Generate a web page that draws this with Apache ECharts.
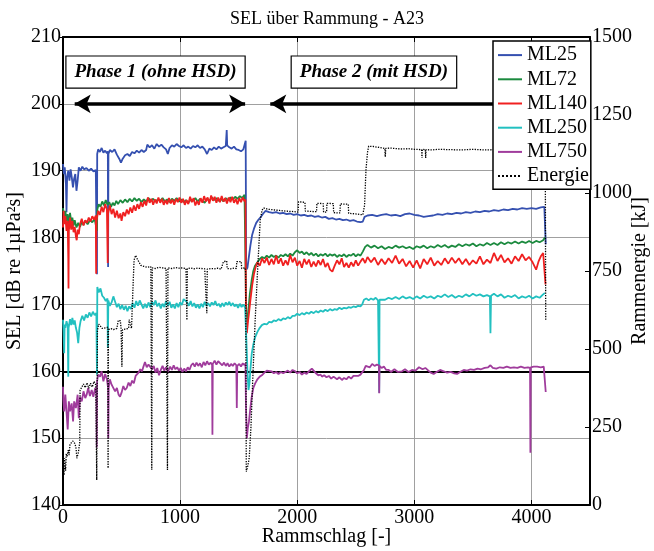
<!DOCTYPE html>
<html><head><meta charset="utf-8">
<script src="https://cdn.jsdelivr.net/npm/echarts@6/dist/echarts.min.js"></script>
<style>html,body{margin:0;padding:0;background:#fff}#c{width:654px;height:551px}</style>
</head><body><div id="c"></div>
<script>
const titleText = 'SEL über Rammung - A23';
const seriesNames = ['ML25', 'ML72', 'ML140', 'ML250', 'ML750', 'Energie'];
const seriesColors = ['#3550b0', '#1b8a3e', '#f02020', '#22c0c0', '#a03c9c', '#000000'];
const xTicks = { min: 0, max: 4500, step: 1000 };
const selTicks = { min: 140, max: 210, step: 10 };
const energyTicks = { min: 0, max: 1500, step: 250 };
const phaseLabels = ['Phase 1 (ohne HSD)', 'Phase 2 (mit HSD)'];
const phaseLabelPos = [[790, 204.75], [2655, 204.75]];
const phaseArrows = [[100, 1555], [1770, 4150]];
const arrowLevel = 200;
const boldLevel = 160;

// [Rammschlag, SEL]
const ml25 = [[0,191],[8,189.5],[15,190.5],[25,188],[30,183.8],[35,189],[45,190],[55,188.5],[65,190.2],[75,189],[85,187.5],[95,188.8],[105,189.5],[115,187],[125,188.5],[135,190.5],[150,190],[165,190.6],[180,190.2],[200,190.4],[220,190],[240,190.3],[260,189.9],[280,190.1],[288,190],[290,174.5],[292,192.5],[300,193.2],[315,192.8],[330,193.4],[345,192.7],[360,193],[375,192.6],[383,192.9],[385,175.6],[388,192.5],[400,193.1],[420,192.8],[440,193.2],[460,192.4],[480,191.8],[495,191.2],[510,191.8],[530,192.3],[550,192.5],[570,192.2],[590,192.8],[610,192.6],[630,193],[650,192.7],[670,193.1],[690,192.8],[710,193.1],[720,193.9],[740,193.5],[760,193.8],[780,193.3],[800,194],[820,193.6],[840,193.9],[860,193.5],[880,193.2],[895,192.5],[910,193.4],[930,193.8],[950,193.6],[970,194],[990,193.7],[1010,193.5],[1030,193.8],[1050,193.4],[1070,193.6],[1090,193.3],[1110,193.7],[1130,193.5],[1150,193.8],[1170,193.4],[1190,193.6],[1210,193.2],[1230,192.5],[1250,193.3],[1270,193.1],[1290,193.5],[1310,193.2],[1330,193.6],[1350,193.3],[1370,193.5],[1390,193.7],[1398,196.1],[1402,193.8],[1420,193.5],[1440,193.3],[1460,193.6],[1480,193.2],[1500,193.1],[1520,192.9],[1540,193.2],[1555,193],[1560,194.5],[1564,175.2],[1575,175.5],[1585,176.8],[1600,178.8],[1615,180.4],[1630,181.3],[1650,182.2],[1670,182.7],[1690,183.1],[1710,183.6],[1730,184],[1760,183.8],[1790,183.7],[1820,183.8],[1850,183.6],[1880,183.7],[1910,183.5],[1940,183.6],[1970,183.4],[2000,183.5],[2030,183.3],[2060,183.4],[2090,183.2],[2120,183.3],[2150,183.1],[2180,183.2],[2210,183],[2240,183.1],[2270,182.8],[2300,182.9],[2330,182.7],[2360,182.8],[2390,182.6],[2420,182.7],[2450,182.5],[2480,182.6],[2510,182.4],[2540,182.3],[2560,182.4],[2575,183.1],[2600,183.3],[2640,183.4],[2680,183.2],[2720,183.4],[2760,183.5],[2800,183.3],[2840,183.4],[2880,183.2],[2920,183.5],[2960,183.6],[3000,183.4],[3040,183.3],[3080,183.1],[3120,183.2],[3160,183.3],[3200,183.5],[3240,183.4],[3280,183.6],[3320,183.5],[3360,183.7],[3400,183.6],[3440,183.8],[3480,183.7],[3520,183.9],[3560,183.8],[3600,184],[3640,183.9],[3680,184.1],[3720,184],[3760,184.2],[3800,184.1],[3840,184.3],[3880,184.2],[3920,184.4],[3960,184.3],[4000,184.4],[4040,184.3],[4080,184.5],[4110,184.6],[4120,184.8],[4122,179]];

const ml72 = [[0,184.4],[10,183],[20,184],[30,182.5],[40,183.5],[50,182],[60,183.7],[70,182.4],[80,183],[90,181.8],[100,182.6],[115,181.5],[130,182.2],[145,181.6],[160,182.3],[175,181.9],[190,182.5],[210,182],[230,182.6],[250,182.3],[270,182.8],[285,183],[290,181],[293,184.2],[305,185],[320,184.6],[335,185.4],[350,184.8],[365,185.6],[380,184.9],[395,185.3],[410,184.6],[425,185.2],[440,184.8],[455,185.5],[470,185],[490,185.6],[510,185.2],[530,185.7],[550,185.3],[570,185.8],[590,185.4],[610,185.9],[630,185.5],[650,185.8],[670,185.3],[690,185.7],[710,185.4],[730,185.9],[750,185.5],[770,185.8],[790,185.4],[810,185.7],[830,185.5],[850,185.9],[870,185.4],[890,185.7],[910,185.3],[930,185.8],[950,185.5],[970,185.9],[990,185.4],[1010,185.7],[1030,185.3],[1050,185.6],[1070,185.2],[1090,185.7],[1110,185.5],[1130,185.9],[1150,185.4],[1170,185.8],[1190,185.5],[1210,185.2],[1230,185.8],[1250,185.5],[1270,186],[1290,185.6],[1310,185.9],[1330,185.5],[1350,185.8],[1370,185.4],[1390,185.9],[1410,185.6],[1430,186],[1450,185.7],[1470,186.1],[1490,185.8],[1510,186.2],[1530,185.9],[1550,186.4],[1558,186.6],[1562,171],[1568,166.5],[1580,168.5],[1595,171.5],[1610,173.5],[1625,175],[1640,175.8],[1660,176.3],[1680,176.8],[1700,177.1],[1720,176.9],[1740,177.3],[1760,177],[1780,177.4],[1800,177.1],[1820,177.3],[1840,177],[1860,177.4],[1880,177.2],[1900,177.5],[1920,177.2],[1940,177.6],[1960,177.3],[1980,177.8],[2000,178.1],[2020,177.7],[2040,177.9],[2060,177.5],[2080,177.8],[2100,177.4],[2120,177.7],[2140,177.3],[2160,177.6],[2180,177.2],[2200,177.5],[2220,177.3],[2240,177.6],[2260,177.2],[2280,177.5],[2300,177.3],[2320,177.5],[2340,177.1],[2360,177.4],[2380,177.2],[2400,177.5],[2420,177.1],[2440,177.4],[2460,177.3],[2480,177.6],[2500,177.2],[2520,177.5],[2540,177.3],[2560,177.9],[2580,178.6],[2600,178.9],[2630,178.5],[2660,178.8],[2690,178.4],[2720,178.7],[2750,178.3],[2780,178.6],[2810,178.4],[2840,178.8],[2870,178.5],[2900,178.7],[2930,178.4],[2960,178.6],[2990,178.3],[3020,178.7],[3050,178.5],[3080,178.8],[3110,178.4],[3140,178.7],[3170,178.5],[3200,178.9],[3230,178.6],[3260,178.9],[3290,178.5],[3320,178.8],[3350,178.6],[3380,179],[3410,178.7],[3440,179],[3470,178.8],[3500,179.1],[3530,178.7],[3560,179],[3590,178.8],[3620,179.2],[3650,178.9],[3680,179.2],[3710,178.9],[3740,179.3],[3770,179],[3800,179.3],[3830,179.1],[3860,179.4],[3890,179.1],[3920,179.4],[3950,179.2],[3980,179.5],[4010,179.2],[4040,179.5],[4070,179.3],[4100,179.6],[4115,180]];

const ml140 = [[0,181.5],[5,184],[10,182],[20,183.2],[30,181],[40,182.5],[45,177],[47,172.4],[50,181],[60,183],[70,181.2],[80,182.5],[90,180.8],[100,181.6],[110,180.2],[117,179.6],[125,181.2],[135,180.5],[145,182],[160,182.8],[175,181.8],[190,182.6],[205,182.2],[220,183],[235,182.4],[250,183.2],[265,182.7],[280,183.3],[283,174.6],[286,182.5],[300,184],[315,183.4],[330,184.6],[345,183.8],[360,185],[375,184.2],[382,176.2],[385,183.6],[400,184.8],[415,183.5],[430,184.3],[445,183],[460,184],[475,182.9],[490,183.6],[500,182.5],[515,183.8],[530,183.2],[545,184.2],[560,183.5],[575,184.5],[590,183.7],[605,184.8],[620,184],[635,185],[650,184.3],[665,185.3],[680,184.6],[695,185.5],[710,184.8],[725,186],[740,185.2],[755,185.8],[770,184.9],[785,185.7],[800,185.1],[815,186],[830,185.2],[845,185.8],[860,184.9],[875,185.6],[890,185],[905,185.9],[920,185.1],[935,185.7],[950,184.9],[965,185.8],[980,185.3],[995,186],[1010,185.2],[1025,185.8],[1040,184.9],[1055,185.6],[1070,185],[1085,186.1],[1100,185.3],[1115,185.9],[1130,184.8],[1145,185.5],[1160,184.9],[1175,185.9],[1190,185.2],[1205,186.2],[1220,185.4],[1235,186],[1250,185.1],[1265,186.3],[1280,185.5],[1295,186.1],[1310,185.2],[1325,186],[1340,185.3],[1355,186.2],[1370,185.4],[1385,185.9],[1400,185.1],[1415,186],[1430,185.3],[1445,186.1],[1460,185.2],[1475,185.8],[1490,185],[1505,185.9],[1520,185.3],[1535,186],[1550,185.4],[1558,185.7],[1562,168],[1570,165.7],[1580,167.5],[1590,169],[1600,170.6],[1615,172.8],[1630,174.5],[1645,175.6],[1660,176.3],[1680,175.8],[1700,176.9],[1720,176.2],[1740,177],[1760,175.9],[1780,176.8],[1800,176],[1820,177.3],[1840,176.1],[1860,176.9],[1880,175.8],[1900,176.6],[1920,175.9],[1940,177.4],[1960,176.3],[1980,177],[2000,175.8],[2020,176.5],[2040,175.5],[2060,176.8],[2080,176],[2100,176.7],[2120,175.6],[2140,176.4],[2160,175.7],[2180,176.6],[2200,175.9],[2220,176.8],[2240,175.6],[2260,176.2],[2280,175.2],[2300,174.9],[2320,175.8],[2340,176.6],[2360,176],[2380,176.9],[2400,175.6],[2420,176.2],[2440,175.5],[2460,176.3],[2480,175.7],[2500,176.6],[2520,175.8],[2540,176.4],[2560,176.9],[2580,176.2],[2600,177.1],[2630,176.3],[2660,177],[2690,175.9],[2720,176.8],[2750,176],[2780,176.9],[2810,176.2],[2840,177.3],[2870,176.1],[2900,176.8],[2930,175.7],[2960,176.5],[2990,175.5],[3020,176.6],[3050,175.4],[3080,176.8],[3110,176],[3140,177],[3170,175.8],[3200,176.5],[3230,175.9],[3260,176.9],[3290,176.1],[3320,177],[3350,176.2],[3380,176.9],[3410,176],[3440,176.8],[3470,175.9],[3500,176.6],[3530,176.1],[3560,177.2],[3590,176],[3620,176.7],[3650,176.2],[3680,177.7],[3710,176.5],[3740,177.4],[3770,176.3],[3800,176.9],[3830,176.1],[3860,177.2],[3890,176.5],[3920,177.5],[3950,176.6],[3980,177.1],[4010,176.3],[4040,175.2],[4060,176.4],[4080,177.2],[4100,177.7],[4115,177.5],[4120,173]];

const ml250 = [[0,167.7],[5,166],[10,162.7],[14,167],[20,166.5],[30,167.5],[40,166.8],[45,159.2],[48,166.5],[60,167.8],[70,166.9],[80,168],[90,167],[100,167.6],[110,166.5],[120,165.8],[130,164.2],[140,166.5],[150,167.5],[165,168.3],[180,167.6],[195,168.5],[210,168],[225,168.8],[240,168.2],[255,168.9],[270,168.4],[285,168.7],[290,159.5],[293,172.6],[305,171.8],[320,172.4],[335,171.3],[350,171],[365,170.5],[380,170.9],[383,163.5],[387,170.6],[400,169.8],[415,170.3],[430,171.2],[445,170.4],[460,169.6],[475,170.1],[490,169.3],[505,169.9],[520,169.2],[535,169.8],[550,169],[565,169.7],[580,169.3],[595,170.2],[610,169.5],[625,170.5],[640,169.8],[655,170.6],[670,170],[685,169.4],[700,170.1],[715,169.5],[730,170.3],[745,169.6],[760,170.4],[775,169.9],[790,170.6],[805,169.7],[820,170.2],[835,169.4],[850,170.1],[865,169.6],[880,170.5],[895,169.8],[910,170.4],[925,169.5],[940,170],[955,169.4],[970,170.2],[985,169.6],[1000,170.3],[1015,169.9],[1030,170.8],[1045,171],[1060,170.3],[1075,169.8],[1090,170.5],[1105,169.7],[1120,170.2],[1135,169.5],[1150,170],[1165,169.4],[1180,170.1],[1195,169.6],[1210,170.4],[1225,169.8],[1240,170.2],[1255,169.7],[1270,170.3],[1285,169.9],[1300,170.5],[1315,169.8],[1330,170.1],[1345,169.6],[1360,170.2],[1375,169.7],[1390,170.3],[1405,169.9],[1420,170.4],[1435,169.8],[1450,170.2],[1465,169.7],[1480,170],[1495,169.5],[1510,170.1],[1525,169.6],[1540,170],[1555,169.5],[1565,165],[1575,160],[1584,157.2],[1592,158.2],[1600,160.2],[1612,162.7],[1625,164],[1641,165.1],[1660,165.9],[1680,166.5],[1698,166.9],[1720,167.1],[1740,167],[1760,167.4],[1780,167.3],[1800,167.6],[1820,167.5],[1840,167.8],[1860,167.6],[1880,167.9],[1900,167.8],[1920,168.1],[1940,167.9],[1960,168.3],[1980,168.3],[2000,168.6],[2020,168.4],[2040,168.7],[2060,168.5],[2080,168.8],[2100,168.6],[2120,168.9],[2140,168.7],[2160,169],[2180,168.8],[2200,169.1],[2220,168.9],[2240,169.2],[2260,169],[2280,169.3],[2300,169.1],[2320,169.3],[2340,169.2],[2360,169.5],[2380,169.3],[2400,169.5],[2420,169.4],[2440,169.6],[2460,169.5],[2480,169.7],[2500,169.6],[2520,169.8],[2540,169.7],[2555,170],[2570,170.7],[2590,170.9],[2610,170.6],[2630,170.9],[2650,170.7],[2670,171],[2690,170.6],[2698,170.6],[2700,156.8],[2703,170.7],[2720,170.9],[2750,170.7],[2780,171],[2810,170.8],[2840,171.1],[2870,170.8],[2900,171.2],[2930,170.9],[2960,171.1],[2990,170.8],[3020,171.2],[3050,170.9],[3080,171.3],[3110,171],[3140,171.2],[3170,170.9],[3200,171.3],[3230,171.1],[3260,171.5],[3290,171.1],[3320,171.4],[3350,171],[3380,171.3],[3410,171.1],[3440,171.5],[3470,171.2],[3500,171.6],[3530,171.3],[3560,171.5],[3590,171.2],[3620,171.4],[3645,171.2],[3650,165.7],[3655,171.3],[3680,171.6],[3710,171.2],[3740,171.5],[3770,171],[3800,171.3],[3830,171.1],[3860,171.4],[3890,170.9],[3920,171.2],[3950,171],[3980,171.3],[4010,170.9],[4040,171.2],[4070,171],[4100,171.5],[4115,171.7]];

const ml750 = [[0,157.7],[3,155.7],[10,154],[20,156.5],[31,153.7],[40,151.3],[50,155.5],[60,154],[74,155.2],[86,152.5],[95,155.5],[110,154.5],[125,156.5],[135,153],[145,156.2],[160,155.5],[175,157],[190,156],[202,156.5],[215,157.5],[230,156.3],[245,157.2],[259,156.2],[275,157.5],[285,156.5],[288,148.6],[291,158.5],[300,159.5],[316,159.2],[330,160],[345,158.5],[360,159.6],[375,158.8],[385,157.5],[387,150],[390,157.5],[400,158.8],[415,158],[430,158.2],[445,157],[460,157.5],[475,156.5],[487,156.2],[500,156.8],[515,157.8],[530,157.2],[544,157.5],[560,158.3],[575,157.8],[590,158.6],[605,158.2],[620,159.3],[630,159.2],[645,159.8],[660,160.3],[675,160],[687,160.7],[700,161.4],[715,160.6],[730,161],[744,161.2],[760,160.3],[775,160.8],[790,159.8],[805,160.5],[820,159.4],[835,160.2],[850,160.8],[865,160.1],[880,160.6],[895,159.9],[915,160.7],[930,160.2],[945,160.9],[960,160.3],[975,160.6],[990,160.1],[1005,160.5],[1020,159.9],[1035,160.4],[1050,160],[1065,160.6],[1080,160.2],[1095,160.9],[1110,161.2],[1125,160.7],[1140,161.3],[1155,160.8],[1170,161.2],[1185,160.6],[1200,161.4],[1215,160.9],[1230,161.5],[1245,161],[1260,161.3],[1273,161],[1276,150.5],[1279,161.1],[1295,161.6],[1310,161],[1325,161.5],[1342,161.4],[1360,160.9],[1375,161.3],[1390,160.8],[1405,161.2],[1420,160.7],[1435,161.1],[1450,160.8],[1465,161.2],[1480,160.9],[1484,154.5],[1488,160.8],[1505,161.1],[1520,160.7],[1535,161.2],[1550,160.9],[1558,161.2],[1562,155],[1570,150],[1578,151.5],[1588,152.5],[1598,154.2],[1610,156],[1625,157.5],[1641,158.2],[1660,158.8],[1680,159.2],[1698,159.4],[1720,159.8],[1740,160.1],[1755,160.2],[1780,160],[1800,159.7],[1820,159.9],[1840,159.6],[1860,159.9],[1880,159.7],[1897,159.7],[1920,160.1],[1940,159.8],[1960,160.2],[1983,160],[2000,159.7],[2020,159.9],[2040,159.5],[2060,159.8],[2080,159.6],[2100,160],[2125,160.4],[2140,160.1],[2160,159.7],[2180,159.4],[2200,159.5],[2211,159.2],[2230,159.4],[2250,159.1],[2270,159.3],[2290,158.9],[2310,159.2],[2325,159],[2340,158.8],[2360,159.1],[2382,158.7],[2400,159],[2420,158.8],[2440,159.2],[2460,158.9],[2480,159.3],[2496,159.1],[2520,159.3],[2540,159.5],[2553,159.4],[2570,160.2],[2585,160.8],[2596,160.9],[2620,160.6],[2640,161.1],[2660,160.8],[2680,161],[2698,160.9],[2700,156.7],[2703,160.8],[2720,160.5],[2740,160.7],[2760,160.2],[2781,160.2],[2800,159.9],[2830,160.3],[2860,159.9],[2895,160],[2920,160.3],[2950,159.9],[2980,160.2],[3009,160.1],[3040,160.6],[3070,160.3],[3094,160.5],[3120,160.1],[3140,159.8],[3165,159.6],[3190,159.9],[3220,160.2],[3251,160],[3280,159.8],[3310,159.9],[3340,159.7],[3365,159.6],[3390,159.9],[3422,160.2],[3450,160.1],[3480,160.3],[3510,160.2],[3540,160.4],[3570,160.3],[3600,160.5],[3630,160.6],[3650,160.9],[3670,160.5],[3700,160.4],[3730,160.6],[3760,160.5],[3790,160.7],[3821,160.5],[3850,160.6],[3880,160.5],[3910,160.7],[3940,160.5],[3970,160.6],[3988,160.5],[3991,147.8],[3994,160.6],[4020,160.7],[4049,160.7],[4080,160.6],[4105,160.7],[4118,160.8],[4122,156.9]];

// [Rammschlag, Rammenergie kJ]
const energie = [[0,60],[4,130],[8,95],[13,150],[17,144],[22,110],[28,165],[35,155],[45,176],[52,160],[60,195],[74,198],[85,205],[95,200],[103,196],[112,180],[118,150],[123,148],[130,166],[138,170],[143,200],[146,368],[160,372],[175,388],[190,376],[205,392],[220,374],[235,390],[250,378],[265,396],[280,385],[286,388],[288,80],[291,300],[294,560],[305,580],[320,578],[335,566],[350,562],[365,568],[383,570],[385,118],[388,562],[410,565],[430,562],[460,566],[472,592],[490,590],[496,565],[500,560],[503,443],[508,562],[530,564],[560,566],[565,594],[580,592],[585,566],[598,565],[600,721],[607,785],[620,800],[635,788],[650,786],[665,768],[690,765],[720,762],[750,764],[757,762],[758,112],[762,760],[790,758],[820,762],[850,760],[880,758],[890,760],[892,112],[896,760],[930,758],[960,761],[990,759],[1020,760],[1050,758],[1056,756],[1058,593],[1062,758],[1090,760],[1120,757],[1150,759],[1180,758],[1210,757],[1226,758],[1228,615],[1232,756],[1260,758],[1290,757],[1320,759],[1350,756],[1366,758],[1370,780],[1398,782],[1402,758],[1430,757],[1460,759],[1480,758],[1484,780],[1522,780],[1526,758],[1555,760],[1560,745],[1565,107],[1575,120],[1590,150],[1605,250],[1620,400],[1641,593],[1660,740],[1684,913],[1700,945],[1712,952],[1750,948],[1800,946],[1850,944],[1900,942],[1950,941],[2008,939],[2011,972],[2066,970],[2069,942],[2120,941],[2165,940],[2168,967],[2222,966],[2225,939],[2251,939],[2254,967],[2308,966],[2311,937],[2365,936],[2368,965],[2436,964],[2439,935],[2500,933],[2560,930],[2567,925],[2575,960],[2587,1074],[2600,1130],[2610,1150],[2650,1149],[2700,1146],[2748,1143],[2752,1116],[2756,1143],[2800,1144],[2850,1142],[2900,1141],[2950,1142],[3000,1140],[3062,1139],[3065,1112],[3068,1140],[3094,1139],[3097,1112],[3100,1139],[3150,1138],[3200,1140],[3300,1139],[3400,1138],[3500,1140],[3600,1138],[3700,1139],[3800,1138],[3900,1139],[4000,1138],[4100,1139],[4118,1138],[4122,590]];

const F = '"Liberation Serif", "Times New Roman", serif';
const seriesData = [ml25, ml72, ml140, ml250, ml750, energie];

const chart = echarts.init(document.getElementById('c'), null, { renderer: 'canvas' });

const series = seriesNames.map((name, i) => {
  const isE = name === 'Energie';
  return {
    name, type: 'line', data: seriesData[i],
    yAxisIndex: isE ? 1 : 0,
    symbol: 'none', showSymbol: false, animation: false,
    lineStyle: { color: seriesColors[i], width: isE ? 1.3 : 1.8, type: isE ? 'dotted' : 'solid' },
    itemStyle: { color: seriesColors[i] },
    z: 2 + i
  };
});

series[0].markLine = {
  silent: true, animation: false,
  symbol: ['arrow', 'arrow'], symbolSize: [14, 16],
  label: { show: false },
  lineStyle: { color: '#000', width: 3.5, type: 'solid' },
  data: phaseArrows.map(a => [{ coord: [a[0], arrowLevel] }, { coord: [a[1], arrowLevel] }])
};
series[0].markPoint = {
  silent: true, animation: false,
  symbol: 'rect', symbolSize: 1,
  itemStyle: { color: 'rgba(0,0,0,0)' },
  label: {
    show: true, position: 'inside', formatter: p => p.name,
    fontFamily: F, fontSize: 19, fontWeight: 'bold', fontStyle: 'italic', color: '#000',
    backgroundColor: '#fff', borderColor: '#000', borderWidth: 1.2, padding: [6, 8, 5, 8], lineHeight: 20
  },
  data: phaseLabels.map((t, i) => ({ name: t, coord: phaseLabelPos[i] }))
};
series[4].markLine = {
  silent: true, animation: false, symbol: 'none',
  label: { show: false },
  lineStyle: { color: '#000', width: 2.2, type: 'solid' },
  data: [{ yAxis: boldLevel }]
};

const plain = v => String(v);
const axisLbl = { fontFamily: F, fontSize: 20, color: '#000', formatter: plain };
const gridLine = { show: true, lineStyle: { color: '#a0a0a0', width: 1 } };
const nameStyle = { fontFamily: F, fontSize: 20, color: '#000' };

chart.setOption({
  animation: false,
  backgroundColor: '#fff',
  title: { text: titleText, left: 'center', top: 5, textStyle: { fontFamily: F, fontSize: 18, fontWeight: 'normal', color: '#000' } },
  grid: { left: 63, right: 64, top: 37, bottom: 46, containLabel: false, outerBoundsMode: 'none' },
  legend: {
    data: seriesNames, orient: 'vertical', left: 493, top: 41,
    backgroundColor: '#fff', borderColor: '#000', borderWidth: 1.5, borderRadius: 0,
    padding: [4, 2, 3, 4], itemGap: 4, itemWidth: 24, itemHeight: 12,
    itemStyle: { opacity: 0 },
    textStyle: { fontFamily: F, fontSize: 20, color: '#000', lineHeight: 20.2 },
    z: 10
  },
  xAxis: [{
    type: 'value', min: xTicks.min, max: xTicks.max, interval: xTicks.step, position: 'bottom',
    name: 'Rammschlag [-]', nameLocation: 'middle', nameGap: 22, nameMoveOverlap: false,
    nameTextStyle: nameStyle,
    axisLine: { show: true, onZero: false, lineStyle: { color: '#000', width: 2 } },
    axisTick: { show: true, inside: true, length: 5, lineStyle: { color: '#000' } },
    axisLabel: Object.assign({ margin: 3, showMaxLabel: false }, axisLbl),
    splitLine: gridLine
  }, {
    type: 'value', min: xTicks.min, max: xTicks.max, interval: xTicks.step, position: 'top',
    axisLine: { show: true, onZero: false, lineStyle: { color: '#000', width: 2 } },
    axisTick: { show: true, inside: true, length: 5, lineStyle: { color: '#000' } },
    axisLabel: { show: false }, splitLine: { show: false }
  }],
  yAxis: [{
    type: 'value', min: selTicks.min, max: selTicks.max, interval: selTicks.step, position: 'left',
    name: 'SEL [dB re 1µPa²s]', nameLocation: 'middle', nameGap: 38, nameMoveOverlap: false,
    nameTextStyle: nameStyle,
    axisLine: { show: true, onZero: false, lineStyle: { color: '#000', width: 2 } },
    axisTick: { show: true, inside: false, length: 4, lineStyle: { color: '#000' } },
    axisLabel: Object.assign({ margin: 2 }, axisLbl),
    splitLine: gridLine
  }, {
    type: 'value', min: energyTicks.min, max: energyTicks.max, interval: energyTicks.step, position: 'right',
    alignTicks: false,
    name: 'Rammenergie [kJ]', nameLocation: 'middle', nameGap: 40, nameMoveOverlap: false,
    nameTextStyle: nameStyle,
    axisLine: { show: true, onZero: false, lineStyle: { color: '#000', width: 2 } },
    axisTick: { show: true, inside: true, length: 5, lineStyle: { color: '#000' } },
    axisLabel: Object.assign({ margin: 2 }, axisLbl),
    splitLine: { show: false }
  }],
  series
});
</script>
</body></html>
